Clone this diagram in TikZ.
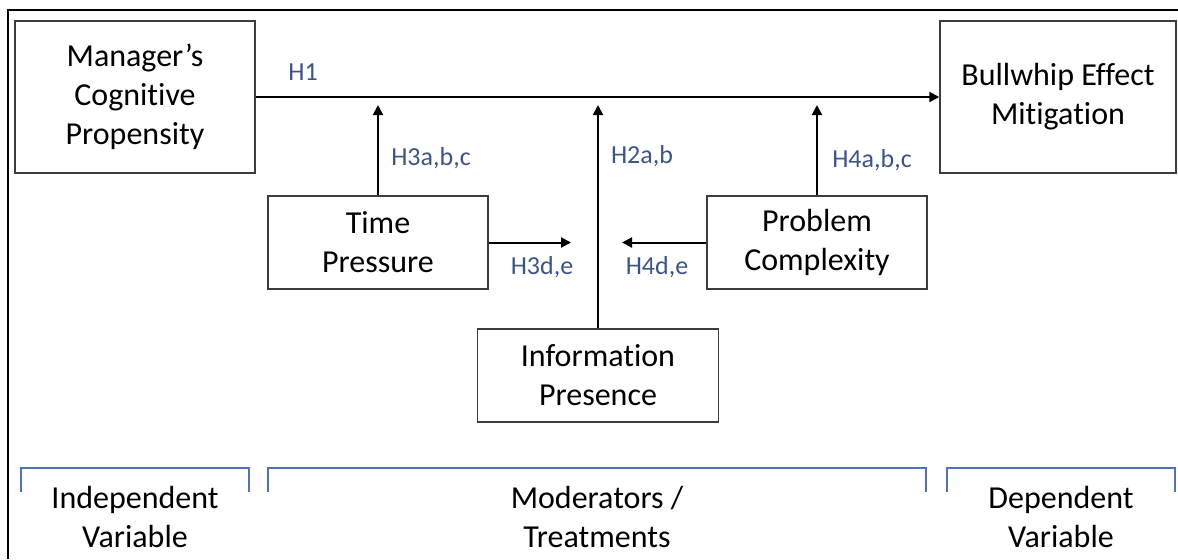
\documentclass[tikz,border=0pt]{standalone}
\usepackage{fontspec}
\setmainfont{Carlito}[Ligatures=NoCommon]
\usetikzlibrary{arrows.meta}
\definecolor{hypblue}{RGB}{59,84,136}
\definecolor{brkblue}{RGB}{79,114,180}
\definecolor{edgegray}{RGB}{60,60,60}
\begin{document}
\begin{tikzpicture}[x=0.5pt,y=-0.5pt,
  box/.style={draw=edgegray,line width=0.75pt,align=center,inner sep=0pt,
    font=\fontsize{16}{19.5}\selectfont},
  arr/.style={-{Triangle[length=5pt,width=5pt]},line width=1pt},
  hyp/.style={text=hypblue,inner sep=0pt,font=\fontsize{13}{15}\selectfont},
  brace/.style={draw=brkblue,line width=0.6pt},
  grp/.style={align=center,inner sep=0pt,font=\fontsize{16}{19.5}\selectfont}]
  \useasboundingbox (0,0) rectangle (1178,559);
  \draw[line width=1.25pt] (8,559) -- (8,10) -- (1178,10);
  % variables
  \node[box,minimum width=120pt,minimum height=76pt] (mgr) at (135,97) {Manager’s\\Cognitive\\Propensity};
  \node[box,minimum width=118pt,minimum height=76pt] (bwe) at (1058,97) {Bullwhip Effect\\Mitigation};
  \node[box,minimum width=110pt,minimum height=46.5pt] (time) at (378,242.5) {Time\\Pressure};
  \node[box,minimum width=110pt,minimum height=46.5pt] (cplx) at (817,242.5) {Problem\\Complexity};
  \node[box,minimum width=120.5pt,minimum height=46.5pt] (info) at (598,375.5) {Information\\Presence};
  \coordinate (h3) at (378,105);
  \coordinate (h2) at (598,105);
  \coordinate (h4) at (817,105);
  \coordinate (tpend) at (571,242.5);
  \coordinate (pcend) at (622,242.5);
  \draw[arr] (mgr.east) -- (bwe.west);
  \draw[arr] (time.north) -- (h3);
  \draw[arr] (info.north) -- (h2);
  \draw[arr] (cplx.north) -- (h4);
  \draw[arr] (time.east) -- (tpend);
  \draw[arr] (cplx.west) -- (pcend);
  % hypotheses
  \node[hyp] (lh1) at (303,72) {H1};
  \node[hyp] (lh3abc) at (431,158) {H3a,b,c};
  \node[hyp] (lh2ab) at (642,156) {H2a,b};
  \node[hyp] (lh4abc) at (872,160) {H4a,b,c};
  \node[hyp] (lh3de) at (542,267) {H3d,e};
  \node[hyp] (lh4de) at (657,267) {H4d,e};
  % groups
  \draw[brace] (21,492) |- (249,468) -- (249,492);
  \draw[brace] (268,492) |- (926,468) -- (926,492);
  \draw[brace] (947,492) |- (1175,468) -- (1175,492);
  \node[grp] (iv) at (135,516.5) {Independent\\Variable};
  \node[grp] (mod) at (597,516.5) {Moderators /\\Treatments};
  \node[grp] (dv) at (1061,516.5) {Dependent\\Variable};
\end{tikzpicture}
\end{document}
